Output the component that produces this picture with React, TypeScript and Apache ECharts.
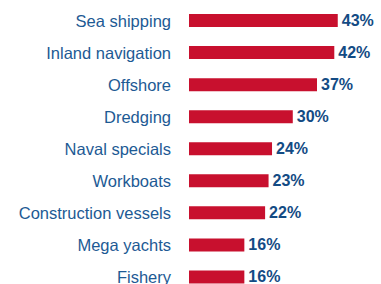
import React, { useEffect, useRef } from "react";
import * as echarts from "echarts";

const categories = [
  "Sea shipping",
  "Inland navigation",
  "Offshore",
  "Dredging",
  "Naval specials",
  "Workboats",
  "Construction vessels",
  "Mega yachts",
  "Fishery",
];
const values = [43, 42, 37, 30, 24, 23, 22, 16, 16];

export default function App() {
  const ref = useRef<HTMLDivElement>(null);
  useEffect(() => {
    const chart = echarts.init(ref.current!, undefined, { renderer: "svg" });
    chart.setOption({
      animation: false,
      grid: { left: 189, top: 4.5, right: 0, bottom: 0, containLabel: false },
      xAxis: {
        type: "value",
        min: 0,
        max: 55.5,
        show: false,
      },
      yAxis: {
        type: "category",
        data: categories,
        inverse: true,
        axisLine: { show: false },
        axisTick: { show: false },
        axisLabel: {
          margin: 18,
          fontSize: 16.5,
          fontFamily: "Liberation Sans, Arial, sans-serif",
          color: "#1d5a94",
        },
      },
      series: [
        {
          type: "bar",
          data: values,
          barWidth: 13,
          itemStyle: { color: "#c8102e" },
          label: {
            show: true,
            position: "right",
            distance: 4,
            formatter: "{c}%",
            fontSize: 16,
            fontWeight: "bold",
            fontFamily: "Liberation Sans, Arial, sans-serif",
            color: "#134b84",
          },
        },
      ],
    });
    return () => chart.dispose();
  }, []);
  return (
    <div
      style={{ position: "absolute", left: 0, top: 0, width: 381, height: 284, overflow: "hidden", background: "#fff" }}
    >
      <div ref={ref} style={{ width: 381, height: 292.5 }} />
    </div>
  );
}
